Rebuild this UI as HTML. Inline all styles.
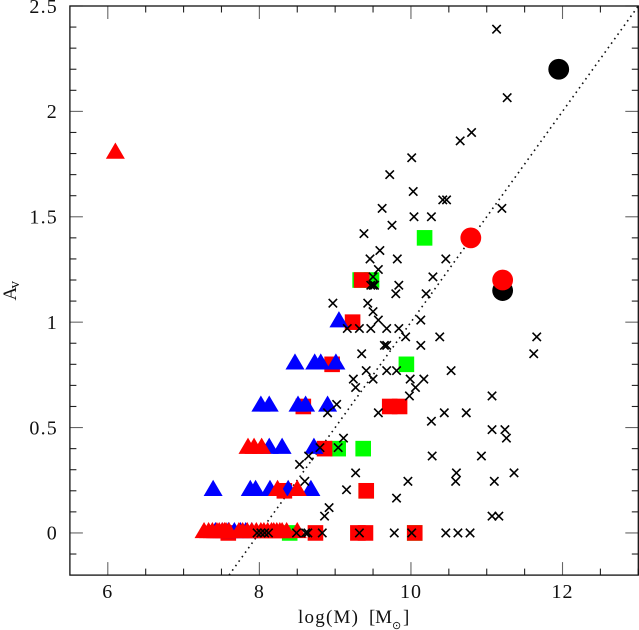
<!DOCTYPE html>
<html>
<head>
<meta charset="utf-8">
<title>Av versus log mass</title>
<style>
html,body{margin:0;padding:0;background:#fff;width:639px;height:630px;overflow:hidden}
svg{display:block}
text{font-family:"Liberation Serif",serif;fill:#111}
</style>
</head>
<body>
<svg id="chart" width="639" height="630" viewBox="0 0 639 630" xmlns="http://www.w3.org/2000/svg">
<rect x="0" y="0" width="639" height="630" fill="#fff"/>
<g id="layer-line"></g>
<g id="layer-marks"></g>
<g id="layer-axes"></g>
<text x="298" y="623" font-size="19" textLength="60" lengthAdjust="spacing">log(M)</text>
<text x="369" y="623" font-size="19" textLength="23" lengthAdjust="spacing">[M</text>
<text x="392" y="629" font-size="11" font-family="DejaVu Sans">⊙</text>
<text x="403" y="623" font-size="19">]</text>
<g transform="translate(16,300.5) rotate(-90)">
<text x="0" y="0" font-size="19">A</text>
<text x="12" y="3" font-size="15">v</text>
</g>
</svg>
<script>
var xMin = 5.5, xMax = 13, yMin = -0.2, yMax = 2.5;
var xTickLabels = [6, 8, 10, 12];
var yTickLabels = [0, 0.5, 1, 1.5, 2, 2.5];
var lineX = [7.6, 13];
var lineY = [-0.2, 2.5];

var greenX = [10.18, 9.33, 9.48, 9.94, 9.04, 9.37, 8.40, 10.05, 9.41];
var greenY = [1.4, 1.2, 1.2, 0.8, 0.4, 0.4, 0, 0, 0.2];

var redSquareX = [9.35, 9.23, 8.96, 8.58, 9.72, 9.85, 8.86, 8.33, 9.41, 7.59, 8.74, 9.30, 9.40, 10.05];
var redSquareY = [1.2, 1.0, 0.8, 0.6, 0.6, 0.6, 0.4, 0.2, 0.2, 0, 0, 0, 0, 0];

var blueX = [9.05, 8.47, 8.73, 8.81, 9.01, 8.02, 8.13, 8.51, 8.61, 8.90, 8.13, 8.30, 8.72, 7.39, 7.88, 7.95, 8.14, 8.38, 8.68, 7.42, 7.51, 7.59, 7.67, 7.75, 7.82, 7.90];
var blueY = [1.0, 0.8, 0.8, 0.8, 0.8, 0.6, 0.6, 0.6, 0.6, 0.6, 0.4, 0.4, 0.4, 0.2, 0.2, 0.2, 0.2, 0.2, 0.2, 0, 0, 0, 0, 0, 0, 0];

var redTriX = [6.1, 7.85, 7.93, 8.03, 8.24, 8.50, 7.27, 7.33, 7.38, 7.44, 7.47, 7.51, 7.54, 7.56, 7.60, 7.73, 7.78, 7.84, 7.90, 7.96, 8.02, 8.06, 8.11, 8.16, 8.19, 8.23, 8.27, 8.30, 8.36, 8.50];
var redTriY = [1.8, 0.4, 0.4, 0.4, 0.2, 0.2, 0, 0, 0, 0, 0, 0, 0, 0, 0, 0, 0, 0, 0, 0, 0, 0, 0, 0, 0, 0, 0, 0, 0, 0];

var blackCircleX = [11.95, 11.21];
var blackCircleY = [2.2, 1.15];
var redCircleX = [11.21, 10.79];
var redCircleY = [1.2, 1.4];

var crossX = [11.13, 11.27, 10.80, 10.65, 10.01, 9.72, 10.03, 10.42, 10.47, 9.62, 11.20, 10.04, 10.27, 9.75, 9.38, 9.59, 9.46, 9.82, 10.46, 9.57, 10.29, 9.50, 9.84, 9.47, 9.52, 9.50, 9.80, 10.20, 8.97, 9.43, 9.50, 9.57, 10.13, 9.16, 9.32, 9.47, 9.68, 9.84, 9.93, 10.38, 11.66, 9.65, 9.68, 10.13, 9.35, 11.62, 9.41, 9.68, 9.81, 10.53, 9.24, 9.50, 9.99, 10.17, 9.27, 10.06, 9.98, 11.07, 9.02, 8.90, 9.57, 10.44, 10.73, 10.27, 11.07, 11.24, 9.11, 11.26, 9.04, 8.80, 8.65, 10.28, 10.93, 8.53, 9.27, 10.60, 11.36, 8.60, 9.96, 10.59, 11.10, 9.15, 9.81, 8.92, 8.86, 11.07, 11.16, 7.97, 8.02, 8.07, 8.12, 8.49, 8.61, 8.64, 8.83, 9.32, 9.78, 10.01, 10.46, 10.62, 10.78];
var crossY = [2.39, 2.065, 1.90, 1.86, 1.78, 1.70, 1.62, 1.58, 1.58, 1.54, 1.54, 1.50, 1.50, 1.46, 1.42, 1.34, 1.30, 1.30, 1.30, 1.25, 1.215, 1.215, 1.175, 1.175, 1.175, 1.175, 1.135, 1.135, 1.09, 1.09, 1.05, 1.01, 1.01, 0.97, 0.97, 0.97, 0.97, 0.97, 0.93, 0.93, 0.93, 0.89, 0.89, 0.89, 0.85, 0.85, 0.77, 0.77, 0.77, 0.77, 0.73, 0.73, 0.73, 0.73, 0.69, 0.69, 0.65, 0.65, 0.61, 0.57, 0.57, 0.57, 0.57, 0.53, 0.49, 0.49, 0.45, 0.45, 0.405, 0.405, 0.365, 0.365, 0.365, 0.325, 0.285, 0.285, 0.285, 0.245, 0.245, 0.245, 0.245, 0.205, 0.165, 0.12, 0.08, 0.08, 0.08, 0, 0, 0, 0, 0, 0, 0, 0, 0, 0, 0, 0, 0, 0];

var NS = 'http://www.w3.org/2000/svg';
var plotLeft = 69.9, plotRight = 638.3, plotTop = 6, plotBottom = 575.1;
function sx(v) { return plotLeft + (v - xMin) / (xMax - xMin) * (plotRight - plotLeft); }
function sy(v) { return plotBottom - (v - yMin) / (yMax - yMin) * (plotBottom - plotTop); }
function make(tag, parent) {
  var el = document.createElementNS(NS, tag);
  parent.appendChild(el);
  return el;
}
var marks = document.getElementById('layer-marks');
var axes = document.getElementById('layer-axes');
var lineLayer = document.getElementById('layer-line');

function drawSquares(xs, ys, color, name) {
  for (var i = 0; i < xs.length; i++) {
    var r = make('rect', marks);
    
    
    r.setAttribute('x', sx(xs[i]) - 7.8);
    r.setAttribute('y', sy(ys[i]) - 7.8);
    r.setAttribute('width', 15.6);
    r.setAttribute('height', 15.6);
    r.setAttribute('fill', color);
  }
}
function drawTriangles(xs, ys, color, name) {
  for (var i = 0; i < xs.length; i++) {
    var p = make('polygon', marks);
    
    
    var cx = sx(xs[i]), cy = sy(ys[i]);
    p.setAttribute('points', cx + ',' + (cy - 11) + ' ' + (cx + 9.5) + ',' + (cy + 5.2) + ' ' + (cx - 9.5) + ',' + (cy + 5.2));
    p.setAttribute('fill', color);
  }
}
function drawCircles(xs, ys, color, name) {
  for (var i = 0; i < xs.length; i++) {
    var c = make('circle', marks);
    
    
    c.setAttribute('cx', sx(xs[i]));
    c.setAttribute('cy', sy(ys[i]));
    c.setAttribute('r', 10.4);
    c.setAttribute('fill', color);
  }
}
function drawCrosses(xs, ys) {
  for (var i = 0; i < xs.length; i++) {
    var p = make('path', marks);
    
    
    var cx = sx(xs[i]), cy = sy(ys[i]), h = 4.2;
    p.setAttribute('d', 'M' + (cx - h) + ' ' + (cy - h) + 'L' + (cx + h) + ' ' + (cy + h) + 'M' + (cx - h) + ' ' + (cy + h) + 'L' + (cx + h) + ' ' + (cy - h));
    p.setAttribute('stroke', '#000');
    p.setAttribute('stroke-width', 1.6);
    p.setAttribute('fill', 'none');
  }
}

var fit = make('line', lineLayer);


fit.setAttribute('x1', sx(lineX[0]));
fit.setAttribute('y1', sy(lineY[0]));
fit.setAttribute('x2', sx(lineX[1]));
fit.setAttribute('y2', sy(lineY[1]));
fit.setAttribute('stroke', '#111');
fit.setAttribute('stroke-width', 1.6);
fit.setAttribute('stroke-dasharray', '1.6 3.9');

drawSquares(greenX, greenY, '#00ff00', 'green-square-point');
drawSquares(redSquareX, redSquareY, '#ff0000', 'red-square-point');
drawTriangles(blueX, blueY, '#0000ff', 'blue-triangle-point');
drawTriangles(redTriX, redTriY, '#ff0000', 'red-triangle-point');
drawCircles(blackCircleX, blackCircleY, '#000000', 'black-circle-point');
drawCircles(redCircleX, redCircleY, '#ff0000', 'red-circle-point');
drawCrosses(crossX, crossY);

function tick(x1, y1, x2, y2, name, width, color) {
  var t = make('line', axes);
  
  
  t.setAttribute('x1', x1);
  t.setAttribute('y1', y1);
  t.setAttribute('x2', x2);
  t.setAttribute('y2', y2);
  t.setAttribute('stroke', color);
  t.setAttribute('stroke-width', width);
}
var v, k, major;
for (k = 0; k * 0.5 + 6 <= 13; k++) {
  v = 6 + k * 0.5;
  major = k % 4 === 0;
  var lenX = major ? 13 : 6.5;
  var colX = major ? '#666' : '#222';
  tick(sx(v), plotBottom, sx(v), plotBottom - lenX, 'x-tick-bottom', 1.1, colX);
  tick(sx(v), plotTop, sx(v), plotTop + lenX, 'x-tick-top', 1.1, colX);
}
for (k = 0; k <= 25; k++) {
  v = k * 0.1;
  major = k % 5 === 0;
  var lenY = major ? 13 : 6.5;
  var colY = major ? '#666' : '#222';
  tick(plotLeft, sy(v), plotLeft + lenY, sy(v), 'y-tick-left', 1.1, colY);
  tick(plotRight, sy(v), plotRight - lenY, sy(v), 'y-tick-right', 1.1, colY);
}
tick(plotLeft, sy(-0.1), plotLeft + 6.5, sy(-0.1), 'y-tick-left', 1.1, '#222');
tick(plotRight, sy(-0.1), plotRight - 6.5, sy(-0.1), 'y-tick-right', 1.1, '#222');

var frame = make('rect', axes);


frame.setAttribute('x', plotLeft);
frame.setAttribute('y', plotTop);
frame.setAttribute('width', plotRight - plotLeft);
frame.setAttribute('height', plotBottom - plotTop);
frame.setAttribute('fill', 'none');
frame.setAttribute('stroke', '#111');
frame.setAttribute('stroke-width', 1.3);

xTickLabels.forEach(function (lab) {
  var t = make('text', axes);
  
  
  t.setAttribute('x', sx(lab));
  t.setAttribute('y', 598);
  t.setAttribute('font-size', 20);
  t.setAttribute('letter-spacing', 1);
  t.setAttribute('text-anchor', 'middle');
  t.textContent = String(lab);
});
yTickLabels.forEach(function (lab) {
  var t = make('text', axes);
  
  
  t.setAttribute('x', 58);
  t.setAttribute('y', sy(lab) + 6.8);
  t.setAttribute('font-size', 20);
  t.setAttribute('letter-spacing', 1.2);
  t.setAttribute('text-anchor', 'end');
  t.textContent = String(lab);
});
</script>
</body>
</html>
